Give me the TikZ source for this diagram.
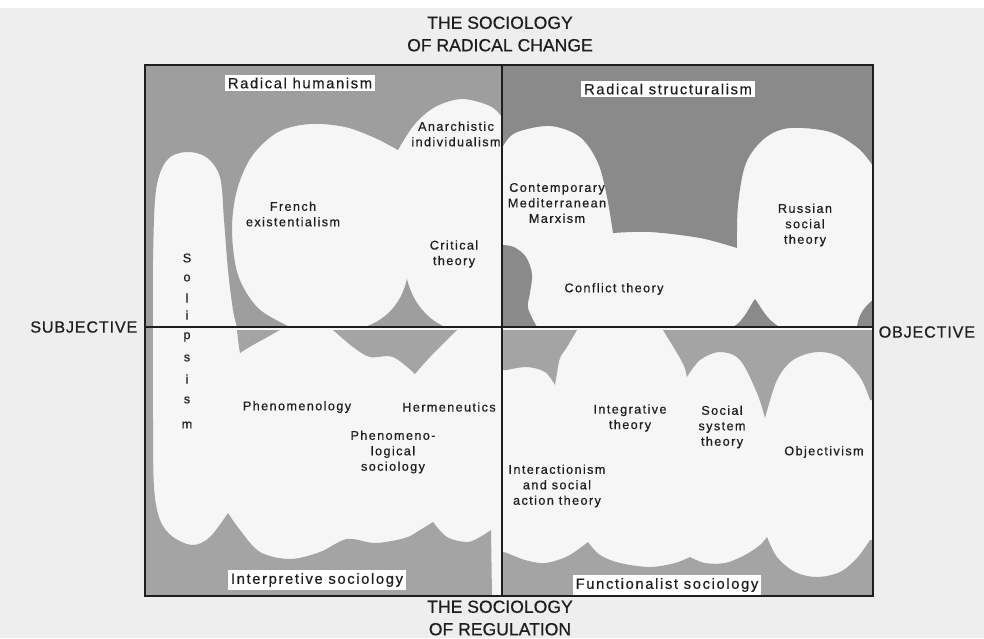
\documentclass[tikz,border=0pt]{standalone}
\usepackage{fontspec}
\setmainfont{Liberation Sans}[FakeBold=0.5]
\newfontfamily\tracked{Liberation Sans}[LetterSpace=11, FakeBold=0.5]
\newfontfamily\widecaps{Liberation Sans}[LetterSpace=5, FakeBold=0.6]
\definecolor{ink}{RGB}{30,30,30}
\definecolor{paper}{RGB}{238,238,238}
\definecolor{blob}{RGB}{246,246,246}
\definecolor{shadeA}{RGB}{158,158,158}
\definecolor{shadeB}{RGB}{138,138,138}
\definecolor{shadeC}{RGB}{164,164,164}
\begin{document}
\begin{tikzpicture}
	[
		x=0.025cm, y=-0.025cm,
		every node/.style = {text=ink, align=center, inner sep=1pt},
		school/.style = {font=\tracked\fontsize{9}{11}\selectfont},
		quadlabel/.style = {fill=white, inner sep=2pt,
			font=\tracked\fontsize{10.5}{12}\selectfont},
		pole/.style = {font=\fontsize{12.5}{16}\selectfont},
		axislabel/.style = {font=\widecaps\fontsize{11.5}{14}\selectfont},
		frame/.style = {draw=ink, line width=1.1pt},
		smooth line/.style = {smooth, tension=0.55}
	]
	\useasboundingbox (0,0) rectangle (984,638);
	\fill[white] (0,0) rectangle (984,8);
	\fill[paper] (0,8) rectangle (984,638);

	% corners of the grid
	\coordinate (nw) at (145,65);
	\coordinate (se) at (873,596);
	\coordinate (top) at (502,65);
	\coordinate (bot) at (502,596);
	\coordinate (west) at (145,327);
	\coordinate (east) at (873,327);

	% radical humanism
	\fill[blob] (145,65) rectangle (502,327);
	\fill[shadeA] (145,65) -- (502,65) -- (502,117)
		-- plot[smooth line] coordinates {(502,117) (490,106) (462,99) (435,107) (414,125) (398,150)}
		-- plot[smooth line] coordinates {(398,150) (375,138) (345,127) (310,124) (278,132) (252,156) (237,190) (232,230) (238,275) (258,308) (290,327)}
		-- (237,327)
		-- plot[smooth line] coordinates {(237,327) (233,310) (228,270) (224,220) (220,177) (206,157) (186,152) (167,160) (156,190) (153,260) (153,327)}
		-- (145,327) -- cycle;
	\fill[shadeA] (365,327) .. controls (390,318) and (402,300) .. (407,279)
		.. controls (412,300) and (425,318) .. (445,327) -- cycle;

	% radical structuralism
	\fill[blob] (502,65) rectangle (873,327);
	\fill[shadeB] (502,65) -- (502,148)
		-- plot[smooth line] coordinates {(502,148) (515,133) (550,126) (580,137) (598,163) (607,197) (613,233)}
		-- plot[smooth line] coordinates {(613,233) (650,232) (700,238) (737,248)}
		-- plot[smooth line] coordinates {(737,248) (738,205) (746,163) (765,138) (790,128) (830,132) (858,148) (873,166)}
		-- (873,65) -- cycle;
	\fill[shadeB] (502,245)
		-- plot[smooth line] coordinates {(502,245) (514,247) (526,257) (532,274) (530,293) (528,308) (537,327)}
		-- (502,327) -- cycle;
	\fill[shadeB] (733,327) .. controls (745,320) and (750,305) .. (755,299)
		.. controls (760,305) and (766,320) .. (780,327) -- cycle;
	\fill[shadeB] (873,300) .. controls (862,308) and (858,318) .. (857,327) -- (873,327) -- cycle;

	% interpretive sociology
	\fill[blob] (145,327) rectangle (502,596);
	\fill[shadeC] (145,327) -- (153,327)
		-- plot[smooth line] coordinates {(153,327) (153,420) (154,487) (160,520) (173,537) (193,545) (210,537) (228,513)}
		-- plot[smooth line] coordinates {(228,513) (240,530) (260,552) (290,559) (320,552) (347,539) (375,543) (405,538) (420,530) (433,522)}
		-- plot[smooth line] coordinates {(433,522) (447,537) (467,542) (480,537) (491,530)}
		-- (492,596) -- (145,596) -- cycle;
	\fill[shadeC] (237,330) .. controls (238,340) and (239,348) .. (240,353)
		.. controls (252,345) and (266,338) .. (280,330) -- cycle;
	\fill[shadeC] (333,330)
		-- plot[smooth line] coordinates {(333,330) (353,347) (370,357) (393,357) (415,374)}
		-- plot[smooth line] coordinates {(415,374) (430,357) (457,330)}
		-- cycle;

	% functionalist sociology
	\fill[blob] (502,327) rectangle (873,596);
	\fill[shadeC] (502,330) -- (577,330)
		-- plot[smooth line] coordinates {(577,330) (567,347) (560,358) (557,373) (555,385)}
		-- plot[smooth line] coordinates {(555,385) (545,372) (527,367) (507,370)}
		-- (502,370) -- cycle;
	\fill[shadeC] (663,330)
		-- plot[smooth line] coordinates {(663,330) (677,353) (684,366) (687,377)}
		-- plot[smooth line] coordinates {(687,377) (700,360) (720,352) (740,360) (757,393) (765,418)}
		-- plot[smooth line] coordinates {(765,418) (777,380) (793,360) (817,352) (840,357) (860,377) (870,400)}
		-- (873,400) -- (873,330) -- cycle;
	\fill[shadeC] (502,552)
		-- plot[smooth line] coordinates {(502,552) (507,553) (525,560) (545,563) (568,556) (588,542)}
		-- plot[smooth line] coordinates {(588,542) (600,555) (620,563) (650,567) (675,563) (690,557)}
		-- plot[smooth line] coordinates {(690,557) (705,563) (725,563) (745,555) (760,545) (767,537)}
		-- plot[smooth line] coordinates {(767,537) (777,557) (795,572) (817,577) (840,572) (857,558) (870,540)}
		-- (873,540) -- (873,596) -- (502,596) -- cycle;

	% grid
	\draw[frame] (nw) rectangle (se);
	\draw[frame] (top) -- (bot);
	\draw[frame] (west) -- (east);

	% poles
	\node[pole] (change) at (500,34) {THE SOCIOLOGY\\OF RADICAL CHANGE};
	\node[pole] (regulation) at (500,618) {THE SOCIOLOGY\\OF REGULATION};
	\node[axislabel, anchor=east] (subjective) at (139,327) {SUBJECTIVE};
	\node[axislabel, anchor=west] (objective) at (877,332) {OBJECTIVE};

	% paradigm names
	\node[quadlabel] (humanism) at (300,83) {Radical humanism};
	\node[quadlabel] (structuralism) at (668,89) {Radical structuralism};
	\node[quadlabel] (interpretive) at (317,580) {Interpretive sociology};
	\node[quadlabel] (functionalist) at (667,585) {Functionalist sociology};

	% schools of thought
	\node[school] (anarchistic) at (456,134) {Anarchistic\\individualism};
	\node[school] (french) at (293,214) {French\\existentialism};
	\node[school] (critical) at (454,254) {Critical\\theory};
	\node[school] (marxism) at (557,203) {Contemporary\\Mediterranean\\Marxism};
	\node[school] (russian) at (805,225) {Russian\\social\\theory};
	\node[school] (conflict) at (614,289) {Conflict theory};
	\node[school] (phenomenology) at (297,407) {Phenomenology};
	\node[school] (hermeneutics) at (449,407) {Hermeneutics};
	\node[school] (phensoc) at (393,452) {Phenomeno-\\logical\\sociology};
	\node[school] (integrative) at (630,418) {Integrative\\theory};
	\node[school] (socsystem) at (722,427) {Social\\system\\theory};
	\node[school] (objectivism) at (824,452) {Objectivism};
	\node[school] (interaction) at (557,486) {Interactionism\\and social\\action theory};
	\foreach \ch/\yy in {S/258, o/278, l/298, i/315, p/337, s/358, i/379, s/400, m/425}
		\node[school] (sol-\yy) at (187,\yy) {\ch};
\end{tikzpicture}
\end{document}
